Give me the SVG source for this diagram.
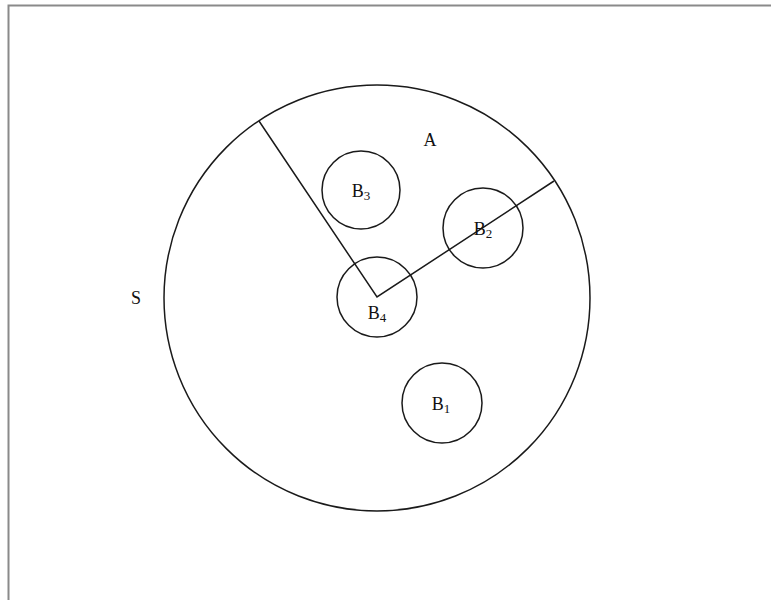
<svg xmlns="http://www.w3.org/2000/svg" width="771" height="600" viewBox="0 0 771 600">
<style>
.c{fill:none;stroke:#1a1a1a;stroke-width:1.5}
.t{font-family:"Liberation Serif",serif;font-size:18px;fill:#111;text-anchor:middle}
.s{font-size:13px}
</style>
<rect width="771" height="600" fill="#fff"/>
<path d="M8.5,600 V5.5 H771" fill="none" stroke="#8a8a8a" stroke-width="2"/>
<g id="S"><circle class="c" cx="377" cy="298" r="213"/><text class="t" x="136" y="304">S</text></g>
<g id="A"><text class="t" x="430" y="146">A</text></g>
<g id="connectors"><polyline class="c" points="259,121 377,297 554,181"/></g>
<g id="B3"><circle class="c" cx="361" cy="190" r="39"/><text class="t" x="361" y="197">B<tspan class="s" dy="3">3</tspan></text></g>
<g id="B2"><circle class="c" cx="483" cy="228" r="40"/><text class="t" x="483" y="235">B<tspan class="s" dy="3">2</tspan></text></g>
<g id="B4"><circle class="c" cx="377" cy="297" r="40"/><text class="t" x="377" y="319">B<tspan class="s" dy="3">4</tspan></text></g>
<g id="B1"><circle class="c" cx="442" cy="403" r="40"/><text class="t" x="441" y="410">B<tspan class="s" dy="3">1</tspan></text></g>
</svg>
